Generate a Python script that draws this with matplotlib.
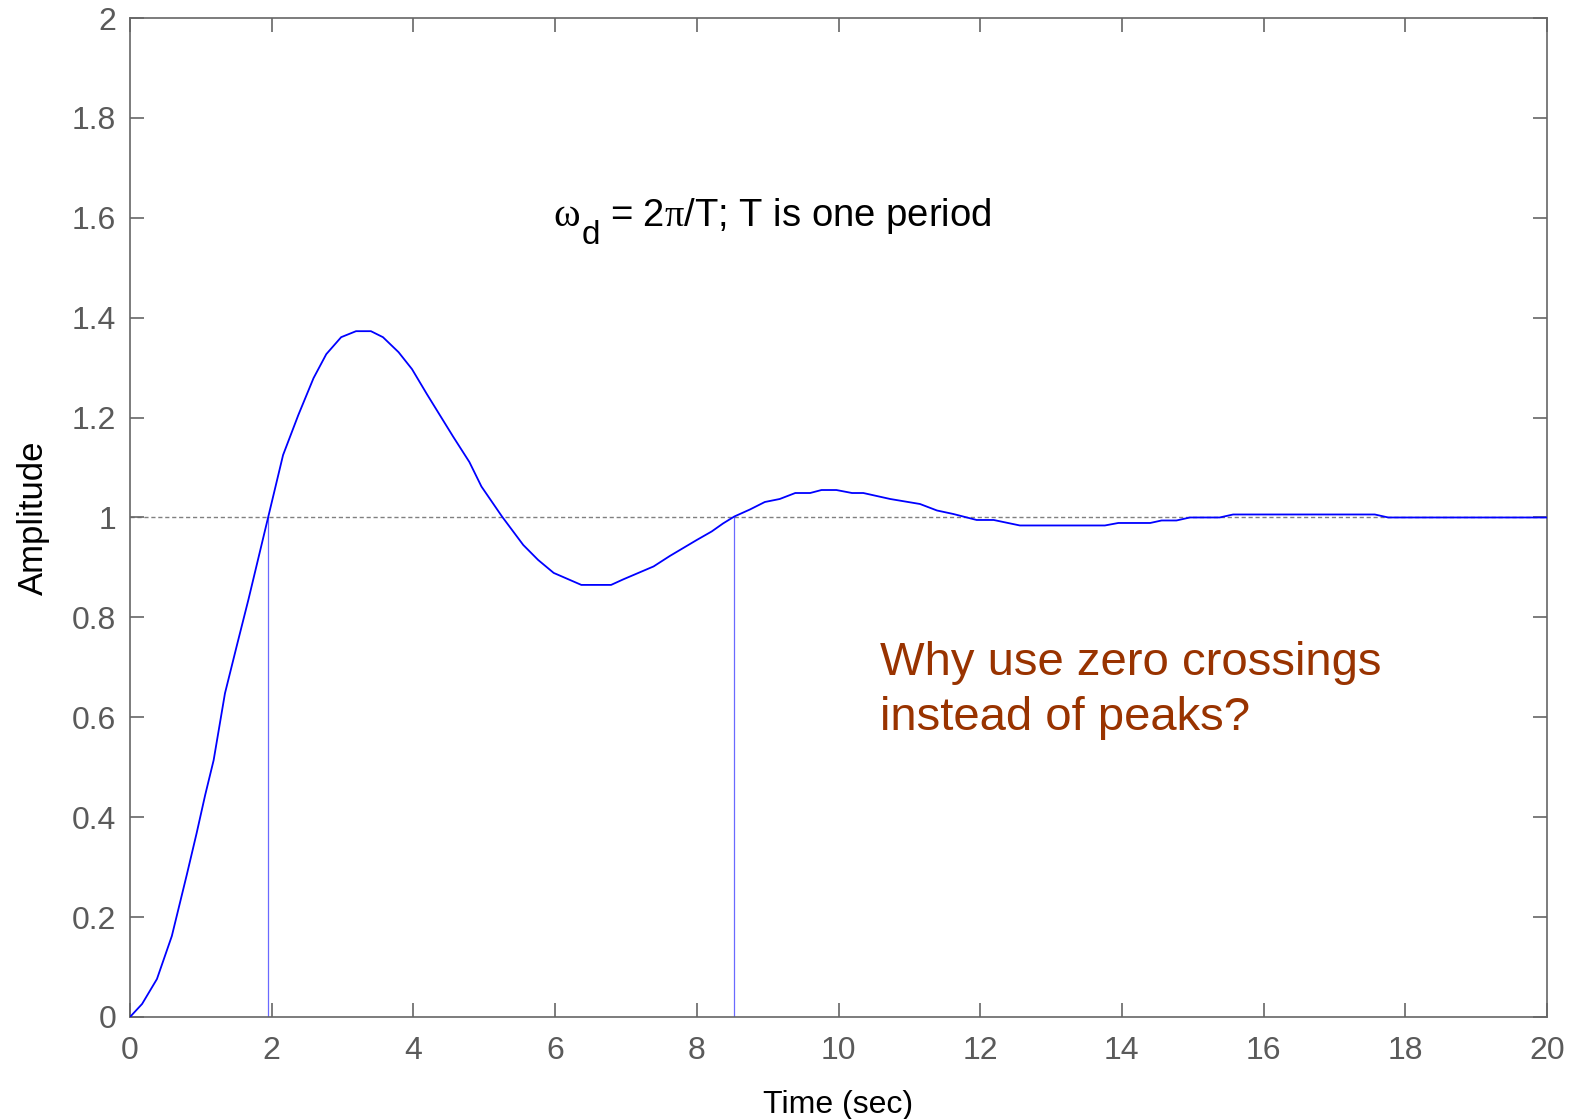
import matplotlib

matplotlib.use("Agg")

import matplotlib.pyplot as plt

# step response (time in s, amplitude)
t = [0, 0.17, 0.38, 0.59, 0.80, 0.94, 1.06, 1.18, 1.34, 1.51, 1.67,
     2.16, 2.375, 2.59, 2.77, 2.98, 3.19, 3.40, 3.57, 3.79, 3.98, 4.19,
     4.56, 4.79, 4.96, 5.25, 5.55, 5.76, 5.98, 6.37, 6.79, 6.96, 7.39,
     7.62, 8.00, 8.21, 8.37, 8.53, 8.75, 8.96, 9.17, 9.39, 9.60, 9.76,
     9.97, 10.19, 10.35, 10.73, 11.15, 11.39, 11.62, 11.95, 12.19, 12.56,
     13.76, 13.95, 14.40, 14.56, 14.77, 14.96, 15.38, 15.57, 17.57, 17.76,
     20.0]
amp = [0, 0.026, 0.076, 0.162, 0.284, 0.368, 0.444, 0.514, 0.648, 0.745,
       0.835, 1.125, 1.205, 1.279, 1.327, 1.361, 1.373, 1.373, 1.361,
       1.331, 1.297, 1.247, 1.162, 1.111, 1.062, 1.002, 0.945, 0.915,
       0.889, 0.865, 0.865, 0.876, 0.902, 0.923, 0.955, 0.972, 0.988,
       1.002, 1.016, 1.031, 1.037, 1.049, 1.049, 1.055, 1.055, 1.049,
       1.049, 1.037, 1.027, 1.014, 1.007, 0.995, 0.995, 0.984, 0.984,
       0.989, 0.989, 0.994, 0.994, 1.0, 1.0, 1.006, 1.006, 1.0, 1.0]

crossings = [1.95, 8.53]
x_ticks = list(range(0, 21, 2))
y_ticks = [0, 0.2, 0.4, 0.6, 0.8, 1, 1.2, 1.4, 1.6, 1.8, 2]
y_tick_labels = ["0", "0.2", "0.4", "0.6", "0.8", "1", "1.2", "1.4", "1.6", "1.8", "2"]

plt.rcParams["font.family"] = ["Liberation Sans", "DejaVu Sans"]
plt.rcParams["mathtext.fontset"] = "custom"
plt.rcParams["mathtext.rm"] = "Liberation Sans"
plt.rcParams["mathtext.it"] = "Liberation Serif"
plt.rcParams["mathtext.bf"] = "Liberation Sans:bold"

GRAY = "#666666"


def main() -> None:
    fig = plt.figure(figsize=(15.8, 11.19), dpi=100)
    ax = fig.add_axes([0.0823, 0.0912, 0.8968, 0.8927])

    ax.axhline(1, color="#808080", linewidth=1.0, linestyle=(0, (3, 2)), zorder=1)
    for tc in crossings:
        ax.plot([tc, tc], [0, 1], color="#6a6aff", linewidth=0.9, zorder=2)
    ax.plot(t, amp, color="#0000ff", linewidth=1.3, zorder=3)

    ax.set_xlim(0, 20)
    ax.set_ylim(0, 2)
    ax.set_xticks(x_ticks)
    ax.set_yticks(y_ticks)
    ax.set_yticklabels(y_tick_labels)
    ax.tick_params(direction="in", length=10, width=1.2, colors=GRAY,
                   labelsize=23, labelcolor="#5a5a5a", top=True, right=True)
    ax.tick_params(axis="x", pad=14)
    ax.tick_params(axis="y", pad=10)
    for s in ax.spines.values():
        s.set_color(GRAY)
        s.set_linewidth(1.2)

    ax.set_xlabel("Time (sec)", fontsize=23, color="black", labelpad=17)
    ax.set_ylabel("Amplitude", fontsize=25, color="black", labelpad=16)

    # omega_d = 2 pi / T, built in pieces like the slide
    ax.text(5.97, 1.584, "\u03c9", family="Liberation Serif",
            fontsize=29, color="black", va="baseline", ha="left")
    ax.text(6.38, 1.548, "d", fontsize=24, color="black", va="baseline", ha="left")
    ax.text(6.775, 1.584, r"= 2$\pi$/T; T is one period",
            fontsize=27.5, color="black", va="baseline", ha="left")

    ax.text(10.59, 0.685, "Why use zero crossings",
            fontsize=34, color="#993300", va="baseline", ha="left")
    ax.text(10.59, 0.575, "instead of peaks?",
            fontsize=34, color="#993300", va="baseline", ha="left")

    fig.savefig("out.png", dpi=100, facecolor="white")
    plt.close(fig)


if __name__ == "__main__":
    main()
